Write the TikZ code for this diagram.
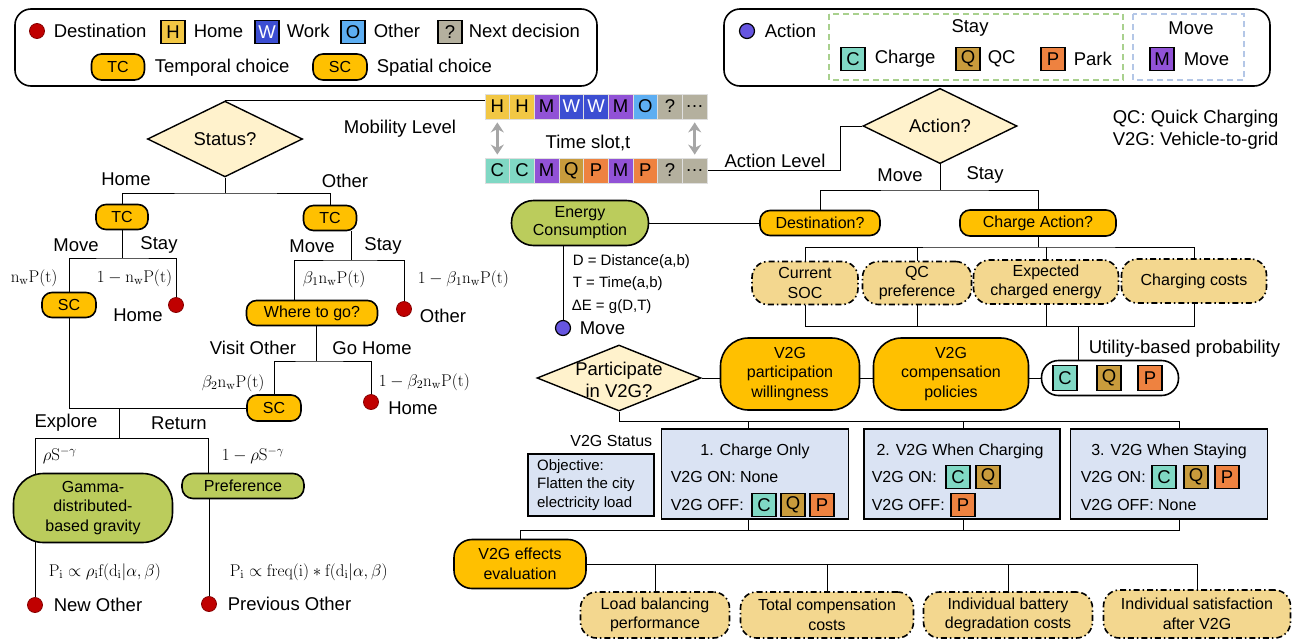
\RequirePackage{fix-cm}
\documentclass[tikz,border=0pt]{standalone}
\usepackage[no-math]{fontspec}
\setmainfont{Liberation Sans}
\usepackage{amsmath,amssymb}
\usetikzlibrary{positioning,arrows.meta,calc,backgrounds,shapes.geometric}
\definecolor{gold}{HTML}{FFC000}
\definecolor{qfill}{HTML}{FFF2CC}
\definecolor{leaf}{HTML}{BBCC5C}
\definecolor{factfill}{HTML}{F3D78F}
\definecolor{statfill}{HTML}{DAE3F3}
\definecolor{destred}{HTML}{C00000}
\definecolor{actblue}{HTML}{6655E0}
\definecolor{cH}{HTML}{F2C744}
\definecolor{cW}{HTML}{3C4ED2}
\definecolor{cO}{HTML}{5DAEF2}
\definecolor{cX}{HTML}{B4B09E}
\definecolor{cC}{HTML}{80D8C4}
\definecolor{cQ}{HTML}{C89B3C}
\definecolor{cP}{HTML}{EE8240}
\definecolor{cM}{HTML}{9152D6}
\definecolor{staygreen}{HTML}{A9D18E}
\definecolor{moveblue}{HTML}{B4C7E7}
\definecolor{slotgray}{HTML}{A6A6A6}
\newcommand{\fbig}{\fontsize{18.5}{22}\selectfont}
\newcommand{\fmid}{\fontsize{16}{19.5}\selectfont}
\newcommand{\fsml}{\fontsize{15}{18.5}\selectfont}
\newcommand{\fmath}{\fontsize{17}{19}\selectfont}

\begin{document}
\begin{tikzpicture}[x=1pt,y=-1pt,line width=1.6pt,>={Stealth[length=10pt,width=13pt]},
  lab/.style={font=\fbig,inner sep=1pt},
  prob/.style={font=\fmid,inner sep=1pt},
  mlab/.style={font=\fmath,inner sep=1pt},
  pill/.style={draw,fill=gold,rounded corners=10pt,font=\fmid,align=center,minimum height=25pt,inner sep=2pt},
  ques/.style={diamond,draw,fill=qfill,font=\fbig,inner sep=0pt,line width=1.4pt},
  leafbox/.style={draw,fill=leaf,rounded corners=22pt,font=\fmid,align=center,inner sep=2pt},
  factor/.style={draw,fill=factfill,rounded corners=16pt,font=\fmid,align=center,inner sep=2pt,dash pattern=on 6pt off 3pt on 1.5pt off 3pt},
  v2gbox/.style={draw,fill=statfill,line width=1.8pt,inner sep=0pt},
  cell/.style={draw,line width=1.2pt,minimum width=24pt,minimum height=23pt,inner sep=0pt,font=\fbig},
  slot/.style={draw=white!75!gray,line width=0.8pt,minimum width=24.67pt,minimum height=25pt,inner sep=0pt,font=\fbig},
  destdot/.style={circle,fill=destred,draw=destred!70!black,line width=0.8pt,minimum size=15pt,inner sep=0pt},
  actdot/.style={circle,fill=actblue,draw=black,line width=1.2pt,minimum size=15pt,inner sep=0pt}]
  \useasboundingbox (0,0) rectangle (1295,643);

  % legend: mobility level
  \draw[rounded corners=16pt] (15,9) rectangle (597,86);
  \node[destdot] (lgdot) at (37,31) {};
  \node[lab,anchor=west] (lgdest) at (52,31) {Destination};
  \node[cell,fill=cH] (lgH) at (173,32) {H};
  \node[lab,anchor=west] (lghome) at (192,31) {Home};
  \node[cell,fill=cW,text=white] (lgW) at (267,32) {W};
  \node[lab,anchor=west] (lgwork) at (285,31) {Work};
  \node[cell,fill=cO] (lgO) at (353,32) {O};
  \node[lab,anchor=west] (lgother) at (372,31) {Other};
  \node[cell,fill=cX] (lgX) at (450,32) {?};
  \node[lab,anchor=west] (lgnext) at (467,31) {Next decision};
  \node[pill,minimum width=53pt,minimum height=26pt] (lgtc) at (118,67) {TC};
  \node[lab,anchor=west] (lgtct) at (153,68) {Temporal choice};
  \node[pill,minimum width=54pt,minimum height=26pt] (lgsc) at (340,67) {SC};
  \node[lab,anchor=west] (lgsct) at (375,68) {Spatial choice};

  % legend: action level
  \draw[rounded corners=16pt] (724,9) rectangle (1270,86);
  \node[actdot] (lgact) at (747,31) {};
  \node[lab,anchor=west] (lgactt) at (763,31) {Action};
  \draw[staygreen,line width=1.4pt,dash pattern=on 6pt off 4pt] (829,14) rectangle (1123,80);
  \draw[moveblue,line width=1.4pt,dash pattern=on 6pt off 4pt] (1133,14) rectangle (1244,80);
  \node[lab] (lgstay) at (970,28) {Stay};
  \node[cell,fill=cC] (lgC) at (853,59) {C};
  \node[lab,anchor=west] (lgcharge) at (873,59) {Charge};
  \node[cell,fill=cQ] (lgQ) at (968,59) {Q};
  \node[lab,anchor=west] (lgqc) at (986,59) {QC};
  \node[cell,fill=cP] (lgP) at (1053,59) {P};
  \node[lab,anchor=west] (lgpark) at (1072,59) {Park};
  \node[lab] (lgmove) at (1191,28) {Move};
  \node[cell,fill=cM] (lgM) at (1162,59) {M};
  \node[lab,anchor=west] (lgmovet) at (1182,59) {Move};

  \node[lab,anchor=west,align=left] (notes) at (1111,130) {QC: Quick Charging\\V2G: Vehicle-to-grid};

  % time slots
  \foreach \txt/\col/\ink [count=\i] in {H/cH/black,H/cH/black,M/cM/black,W/cW/white,W/cW/white,M/cM/black,O/cO/black,?/cX/black,{\dots}/cX/black}
    \node[slot,fill=\col,text=\ink] (mob\i) at ({472.67+24.67*\i},106.5) {\txt};
  \foreach \txt/\col [count=\i] in {C/cC,C/cC,M/cM,Q/cQ,P/cP,M/cM,P/cP,?/cX,{\dots}/cX}
    \node[slot,fill=\col] (acl\i) at ({472.67+24.67*\i},170.5) {\txt};
  \draw[<->,slotgray,line width=3.2pt,shorten <=3pt,shorten >=3pt] (mob1) -- (acl1);
  \draw[<->,slotgray,line width=3.2pt,shorten <=3pt,shorten >=3pt] (mob9) -- (acl9);
  \node[lab] (tslot) at (588,143) {Time slot,t};

  % mobility level tree
  \node[ques,minimum width=155pt,minimum height=63pt] (status) at (225,139) {Status?};
  \node[lab] (mobl) at (400,129) {Mobility Level};
  \node[lab] (brhome) at (126,179) {Home};
  \node[lab] (brother) at (345,181) {Other};
  \node[pill,minimum width=52pt] (tch) at (122,217) {TC};
  \node[pill,minimum width=53pt] (tco) at (330,218) {TC};
  \node[lab] (hmove) at (76,245) {Move};
  \node[lab] (hstay) at (159,245) {Stay};
  \node[mlab,anchor=west] (hp1) at (9,278) {$\mathrm{n_wP(t)}$};
  \node[mlab,anchor=west] (hp2) at (95,278) {$1-\mathrm{n_wP(t)}$};
  \node[pill,minimum width=54pt] (sch) at (69,305) {SC};
  \node[destdot] (home1) at (176,305) {};
  \node[lab] (home1t) at (138,315) {Home};
  \node[lab] (omove) at (312,246) {Move};
  \node[lab] (ostay) at (383,246) {Stay};
  \node[mlab,anchor=west] (op1) at (301,279) {$\beta_1\mathrm{n_wP(t)}$};
  \node[mlab,anchor=west] (op2) at (416,279) {$1-\beta_1\mathrm{n_wP(t)}$};
  \node[pill,minimum width=131pt] (where) at (312,313) {Where to go?};
  \node[destdot] (other1) at (404,309) {};
  \node[lab] (other1t) at (443,316) {Other};
  \node[lab] (visit) at (253,348) {Visit Other};
  \node[lab] (gohome) at (372,348) {Go Home};
  \node[mlab,anchor=west] (wp1) at (200,383) {$\beta_2\mathrm{n_wP(t)}$};
  \node[mlab,anchor=west] (wp2) at (377,382) {$1-\beta_2\mathrm{n_wP(t)}$};
  \node[pill,minimum width=54pt,minimum height=26pt] (sco) at (274,408) {SC};
  \node[destdot] (home2) at (371,402) {};
  \node[lab] (home2t) at (413,408) {Home};
  \node[lab] (explore) at (66,423) {Explore};
  \node[lab] (retrn) at (179,423) {Return};
  \node[mlab,anchor=west] (ep1) at (41,456) {$\rho\mathrm{S}^{-\gamma}$};
  \node[mlab,anchor=west] (ep2) at (220,456) {$1-\rho\mathrm{S}^{-\gamma}$};
  \node[leafbox,minimum width=159pt,minimum height=69pt,rounded corners=30pt] (gamma) at (93,508) {Gamma-\\distributed-\\based gravity};
  \node[leafbox,minimum width=122pt,minimum height=25pt,rounded corners=11pt] (pref) at (243,486) {Preference};
  \node[mlab,anchor=west] (gp) at (47,572) {$\mathrm{P_i}\propto\rho_{\mathrm{i}}\mathrm{f}(\mathrm{d_i}|\alpha,\beta)$};
  \node[mlab,anchor=west] (pp) at (228,572) {$\mathrm{P_i}\propto\mathrm{freq(i)}\ast\mathrm{f}(\mathrm{d_i}|\alpha,\beta)$};
  \node[destdot] (newo) at (35,605) {};
  \node[lab,anchor=west] (newot) at (52,605) {New Other};
  \node[destdot] (prevo) at (209,604) {};
  \node[lab,anchor=west] (prevot) at (226,604) {Previous Other};

  % action level tree
  \node[ques,minimum width=154pt,minimum height=62pt] (action) at (940,126) {Action?};
  \coordinate (actbend) at (840,126);
  \node[lab] (actl) at (775,161) {Action Level};
  \node[lab] (amove) at (900,175) {Move};
  \node[lab] (astay) at (985,175) {Stay};
  \node[pill,minimum width=120pt] (dest) at (820,223) {Destination?};
  \node[pill,minimum width=156pt,minimum height=26pt] (chg) at (1038,223) {Charge Action?};
  \node[leafbox,minimum width=137pt,minimum height=45pt,font=\fontsize{16}{18}\selectfont] (energy) at (580,223) {Energy\\Consumption};
  \node[prob,anchor=west,font=\fsml] (eqd) at (571,262) {D = Distance(a,b)};
  \node[prob,anchor=west,font=\fsml] (eqt) at (571,284) {T = Time(a,b)};
  \node[prob,anchor=west,font=\fsml] (eqe) at (570,307) {ΔE = g(D,T)};
  \node[actdot] (mvdot) at (563,328) {};
  \node[lab,anchor=west] (mvdott) at (578,328) {Move};
  \node[factor,minimum width=106pt,minimum height=43pt] (soc) at (805,283) {Current\\SOC};
  \node[factor,minimum width=109pt,minimum height=43pt] (qcp) at (917,283) {QC\\preference};
  \node[factor,minimum width=145pt,minimum height=44pt] (ece) at (1046,282) {Expected\\charged energy};
  \node[factor,minimum width=145pt,minimum height=44pt] (ccost) at (1194,281) {Charging costs};
  \coordinate (cfork) at (1038,247);
  \coordinate (ubus) at (1078,326);
  \node[lab,anchor=west] (utilt) at (1087,349) {Utility-based probability};

  % V2G participation
  \node[ques,minimum width=164pt,minimum height=66pt] (partic) at (619,378) {};
  \node[lab,align=center] (partict) at (619,380) {Participate\\in V2G?};
  \node[pill,minimum width=139pt,minimum height=72pt,rounded corners=28pt] (willing) at (790,374) {V2G\\participation\\willingness};
  \node[pill,minimum width=155pt,minimum height=72pt,rounded corners=28pt] (comp) at (951,374) {V2G\\compensation\\policies};
  \node[draw,fill=white,rounded corners=17pt,minimum width=137pt,minimum height=35pt] (util) at (1110,378) {};
  \node[cell,fill=cC,minimum height=25pt] (utc) at (1065,378) {C};
  \node[cell,fill=cQ,minimum height=25pt] (utq) at (1109,378) {Q};
  \node[cell,fill=cP,minimum height=25pt] (utp) at (1150,378) {P};

  % V2G status
  \node[prob,anchor=east] (v2gst) at (654,441) {V2G Status};
  \node[v2gbox,minimum width=126pt,minimum height=62pt] (obj) at (591,485) {};
  \node[anchor=west,align=left,font=\fsml] (objt) at (533,485) {Objective:\\Flatten the city\\electricity load};
  \node[v2gbox,minimum width=187pt,minimum height=90pt] (st1) at (755,474) {};
  \node[prob] (st1t) at (755,451) {1. Charge Only};
  \node[prob,anchor=west] (st1on) at (669,477) {V2G ON: None};
  \node[prob,anchor=west] (st1off) at (669,505) {V2G OFF:};
  \node[cell,fill=cC] (st1c) at (764,505) {C};
  \node[cell,fill=cQ] (st1q) at (793,505) {Q};
  \node[cell,fill=cP] (st1p) at (822,505) {P};
  \node[v2gbox,minimum width=196pt,minimum height=90pt] (st2) at (962,474) {};
  \node[prob] (st2t) at (960,451) {2. V2G When Charging};
  \node[prob,anchor=west] (st2on) at (870,477) {V2G ON:};
  \node[cell,fill=cC] (st2c) at (958,477) {C};
  \node[cell,fill=cQ] (st2q) at (988,477) {Q};
  \node[prob,anchor=west] (st2off) at (870,505) {V2G OFF:};
  \node[cell,fill=cP] (st2p) at (963,505) {P};
  \node[v2gbox,minimum width=197pt,minimum height=90pt] (st3) at (1169,474) {};
  \node[prob] (st3t) at (1169,451) {3. V2G When Staying};
  \node[prob,anchor=west] (st3on) at (1079,477) {V2G ON:};
  \node[cell,fill=cC] (st3c) at (1164,477) {C};
  \node[cell,fill=cQ] (st3q) at (1196,477) {Q};
  \node[cell,fill=cP] (st3p) at (1227,477) {P};
  \node[prob,anchor=west] (st3off) at (1079,505) {V2G OFF: None};

  % evaluation
  \node[pill,minimum width=132pt,minimum height=49pt,rounded corners=18pt] (eval) at (520,564) {V2G effects\\evaluation};
  \node[factor,minimum width=149pt,minimum height=46pt] (lbp) at (655,615) {Load balancing\\performance};
  \node[factor,minimum width=173pt,minimum height=46pt] (tcc) at (827,615) {Total compensation\\costs};
  \node[factor,minimum width=169pt,minimum height=46pt] (ibd) at (1008,615) {Individual battery\\degradation costs};
  \node[factor,minimum width=187pt,minimum height=48pt] (isat) at (1197,614) {Individual satisfaction\\after V2G};

  \begin{scope}[on background layer]
    % mobility level connectors
    \draw (status.north) -- (status.north -| mob1.west);
    \coordinate (stfork) at (225,193);
    \draw (status.south) -- (stfork);
    \draw (tch.north) |- (stfork) -| (tco.north);
    \coordinate (hfork) at (122,258);
    \draw (tch.south) -- (hfork);
    \draw (sch.north) |- (hfork) -| (home1.north);
    \coordinate (ofork) at (351,260);
    \coordinate (oleft) at (294,260);
    \draw (ofork |- tco.south) -- (ofork);
    \draw (oleft |- where.north) -- (oleft) -- (ofork) -| (other1.north);
    \coordinate (wfork) at (316,361);
    \draw (wfork |- where.south) -- (wfork);
    \draw (sco.north) |- (wfork) -| (home2.north);
    \draw (sch.south) |- (sco.west);
    \coordinate (efork) at (119,438);
    \coordinate (eleft) at (35,438);
    \coordinate (eright) at (208,438);
    \draw (efork |- sco.west) -- (efork);
    \draw (eleft |- gamma.center) -- (eleft) -- (eright) -- (eright |- pref.center);
    \draw (newo) -- (newo |- gamma.center);
    \draw (prevo) -- (prevo |- pref.center);
    % action level connectors
    \draw (acl9.east) -| (actbend) -- (action.west);
    \coordinate (afork) at (940,190);
    \draw (action.south) -- (afork);
    \draw (dest.north) |- (afork) -| (chg.north);
    \draw (energy) -- (dest);
    \draw (mvdot) -- (mvdot |- energy.center);
    \draw (chg.south) -- (cfork);
    \draw (soc.north) |- (cfork) -| (ccost.north);
    \draw (qcp.north) -- (qcp.north |- cfork);
    \draw (ece.north) -- (ece.north |- cfork);
    \draw (soc.south) |- (ccost.south |- ubus) -- (ccost.south);
    \draw (qcp.south) -- (qcp.south |- ubus);
    \draw (ece.south) -- (ece.south |- ubus);
    \draw (ubus) -- (ubus |- util.north);
    % V2G connectors
    \draw (partic.east) -- (partic.east -| willing.west);
    \draw (willing.east |- partic.east) -- (comp.west |- partic.east);
    \draw (comp.east |- partic.east) -- (util.west);
    \coordinate (pbus1) at (748,421);
    \coordinate (pbus2) at (963,421);
    \coordinate (pbus3) at (1179,421);
    \draw (partic.south) |- (pbus3) -- (pbus3 |- st3.north);
    \draw (pbus1) -- (pbus1 |- st1.north);
    \draw (pbus2) -- (pbus2 |- st2.north);
    \coordinate (sbus1) at (748,530);
    \coordinate (sbus2) at (963,530);
    \coordinate (sbus3) at (1179,530);
    \draw (eval.north) |- (sbus3) -- (sbus3 |- st3.south);
    \draw (sbus1) -- (sbus1 |- st1.south);
    \draw (sbus2) -- (sbus2 |- st2.south);
    \draw (eval.east) -| (isat.north);
    \draw (lbp.north) -- (lbp.north |- eval.east);
    \draw (tcc.north) -- (tcc.north |- eval.east);
    \draw (ibd.north) -- (ibd.north |- eval.east);
  \end{scope}
\end{tikzpicture}
\end{document}
